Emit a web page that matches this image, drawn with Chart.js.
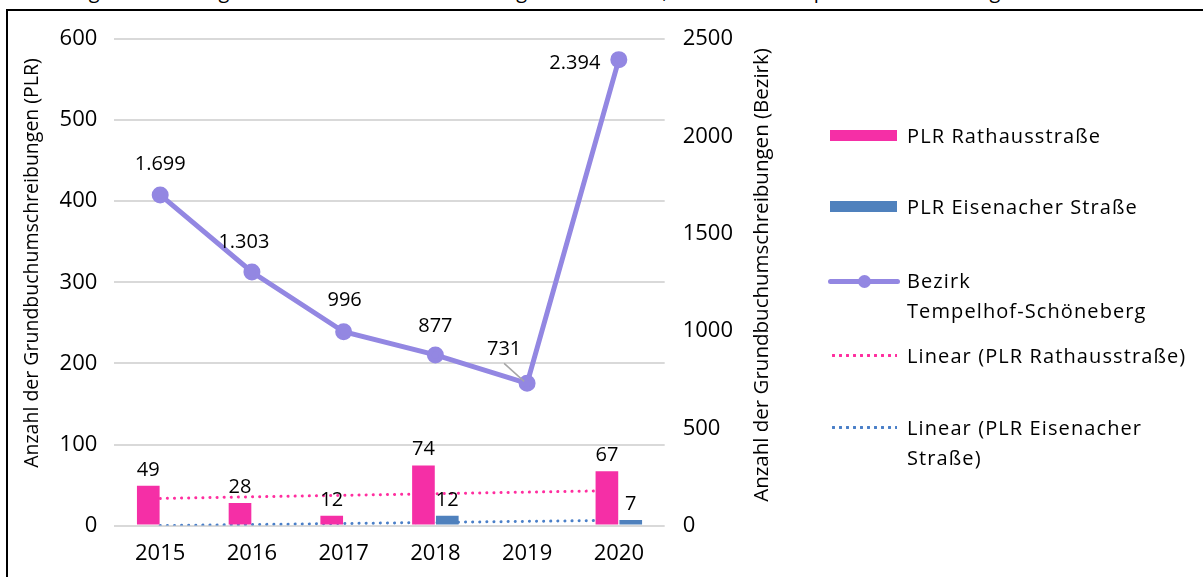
<!DOCTYPE html>
<html>
<head>
<meta charset="utf-8">
<script src="https://cdn.jsdelivr.net/npm/chart.js@4/dist/chart.umd.min.js"></script>
<style>
  body { margin: 0; background: #fff; font-family: "Open Sans", sans-serif; }
  #wrap { position: relative; width: 1203px; height: 577px; overflow: hidden; }
  #title { position: absolute; left: 0; top: -23px; font-size: 20px; white-space: nowrap; color: #000; letter-spacing: 0.6px; }
  #frame { position: absolute; left: 6px; top: 9px; width: 1400px; height: 800px; border-left: 2px solid #000; border-top: 2px solid #000; }
  canvas { position: absolute; left: 0; top: 0; }
  #legend { position: absolute; left: 828px; top: 0; }
  .item { position: absolute; left: 0; white-space: nowrap; font-size: 20px; letter-spacing: 1.1px; line-height: 30px; color: #000; }
  .item .txt { position: absolute; left: 79px; top: 0; }
  .sw { position: absolute; left: 2px; width: 67px; }
</style>
</head>
<body>
<div id="wrap">
  <div id="title">Abbildung: Entwicklung der Grundbuchumschreibungen in den PLR, im Bezirk Tempelhof-Schöneberg</div>
  <div id="frame"></div>
  <canvas id="chart" width="1203" height="577"></canvas>
  <div id="legend"></div>
</div>
<script>
// values
const years = ["2015", "2016", "2017", "2018", "2019", "2020"];
const rathaus = [49, 28, 12, 74, 0, 67];
const eisenacher = [0, 0, 0, 12, 0, 7];
const bezirk = [1699, 1303, 996, 877, 731, 2394];
// trend lines: only the two end values, drawn straight across
const trendRathaus = [33.5, null, null, null, null, 43.2];
const trendEisenacher = [0, null, null, null, null, 6.5];

const leftTitle = "Anzahl der Grundbuchumschreibungen (PLR)";
const rightTitle = "Anzahl der Grundbuchumschreibungen (Bezirk)";

const pink = "#F52FA6";
const blue = "#4F81BD";
const purple = "#9387E2";

const fmt = v => String(v).replace(/\B(?=(\d{3})+(?!\d))/g, ".");

// label shifts for the Bezirk line labels (x, y relative to point)
const lineLabelShift = [[0, -31], [-8, -30], [1, -31], [0, -29], [-23, -34], [-44, 4]];

function verticalText(ctx, text, x, y, size) {
  ctx.save();
  ctx.translate(x, y);
  ctx.rotate(-Math.PI / 2);
  ctx.font = size + 'px "Open Sans"';
  ctx.fillText(text, 0, 0);
  ctx.restore();
}

const valueLabels = {
  id: "valueLabels",
  afterDatasetsDraw(chart) {
    const ctx = chart.ctx;
    ctx.save();
    ctx.font = '20px "Open Sans"';
    ctx.fillStyle = "#000";
    ctx.textAlign = "center";
    ctx.textBaseline = "middle";
    [0, 1].forEach(i => {
      const vals = chart.data.datasets[i].data;
      chart.getDatasetMeta(i).data.forEach((bar, j) => {
        if (!vals[j]) return;
        ctx.fillText(fmt(vals[j]), bar.x, bar.y - 16);
      });
    });
    chart.getDatasetMeta(2).data.forEach((pt, j) => {
      const [dx, dy] = lineLabelShift[j];
      if (j === 4) {
        ctx.strokeStyle = "#A6A6A6";
        ctx.lineWidth = 1.5;
        ctx.beginPath();
        ctx.moveTo(pt.x - 23, pt.y - 20);
        ctx.lineTo(pt.x - 3, pt.y - 2);
        ctx.stroke();
      }
      ctx.fillText(fmt(bezirk[j]), pt.x + dx, pt.y + dy);
    });
    // axis titles, both reading bottom to top
    verticalText(ctx, leftTitle, 32, 263, 19.5);
    verticalText(ctx, rightTitle, 762, 275, 20.5);
    ctx.restore();
  }
};

const tickFont = { family: "Open Sans", size: 22 };

new Chart(document.getElementById("chart").getContext("2d"), {
  type: "bar",
  data: {
    labels: years,
    datasets: [
      { type: "bar", label: "PLR Rathausstraße", data: rathaus, backgroundColor: pink,
        yAxisID: "y", order: 2, categoryPercentage: 0.52, barPercentage: 0.95 },
      { type: "bar", label: "PLR Eisenacher Straße", data: eisenacher, backgroundColor: blue,
        yAxisID: "y", order: 2, categoryPercentage: 0.52, barPercentage: 0.95 },
      { type: "line", label: "Bezirk Tempelhof-Schöneberg", data: bezirk, yAxisID: "y1",
        borderColor: purple, backgroundColor: purple, borderWidth: 5, pointRadius: 6,
        pointHoverRadius: 6, order: 0 },
      { type: "line", label: "Linear (PLR Rathausstraße)", data: trendRathaus, yAxisID: "y",
        spanGaps: true, borderColor: "#FF2E9F", borderWidth: 3, borderDash: [0.1, 7],
        borderCapStyle: "round", pointRadius: 0, order: 3 },
      { type: "line", label: "Linear (PLR Eisenacher Straße)", data: trendEisenacher, yAxisID: "y",
        spanGaps: true, borderColor: "#4A7FC8", borderWidth: 3, borderDash: [0.1, 7],
        borderCapStyle: "round", pointRadius: 0, order: 3 }
    ]
  },
  options: {
    responsive: false,
    animation: false,
    devicePixelRatio: 1,
    layout: { padding: { left: 20, right: 460, top: 39, bottom: 3 } },
    plugins: { legend: { display: false }, tooltip: { enabled: false } },
    scales: {
      x: {
        grid: { display: false },
        border: { display: false },
        ticks: { color: "#000", font: tickFont, padding: 7 }
      },
      y: {
        position: "left",
        min: 0, max: 600,
        ticks: { stepSize: 100, color: "#000", font: tickFont, padding: 17 },
        grid: { color: "#D9D9D9", lineWidth: 2, drawTicks: false },
        border: { display: false },
        // reserves room only; the text itself is drawn by valueLabels
        title: { display: true, text: leftTitle, color: "rgba(0,0,0,0)",
          font: { family: "Open Sans", size: 18 }, padding: { top: 0, bottom: 1 } }
      },
      y1: {
        position: "right",
        min: 0, max: 2500,
        ticks: { stepSize: 500, color: "#000", font: tickFont, padding: 10, callback: v => String(v) },
        grid: { display: false },
        border: { display: false }
      }
    }
  },
  plugins: [valueLabels]
});

// legend, built from the dataset names
const legendItems = [
  { lines: ["PLR Rathausstraße"], y: 121, kind: "bar", color: pink },
  { lines: ["PLR Eisenacher Straße"], y: 192, kind: "bar", color: blue },
  { lines: ["Bezirk", "Tempelhof-Schöneberg"], y: 266, kind: "line", color: purple },
  { lines: ["Linear (PLR Rathausstraße)"], y: 341, kind: "dots", color: "#FF2E9F" },
  { lines: ["Linear (PLR Eisenacher", "Straße)"], y: 413, kind: "dots", color: "#4A7FC8" }
];
const legend = document.getElementById("legend");
legendItems.forEach(it => {
  const d = document.createElement("div");
  d.className = "item";
  d.style.top = it.y + "px";
  const sw = document.createElement("div");
  sw.className = "sw";
  if (it.kind === "bar") {
    sw.style.top = "9px"; sw.style.height = "11px"; sw.style.background = it.color;
  } else if (it.kind === "line") {
    sw.style.top = "13px"; sw.style.height = "5px"; sw.style.left = "0px"; sw.style.width = "72px";
    sw.style.background = it.color; sw.style.borderRadius = "3px";
    const dot = document.createElement("div");
    dot.style.cssText = "position:absolute;left:30px;top:-4px;width:13px;height:13px;border-radius:50%;background:" + it.color;
    sw.appendChild(dot);
  } else {
    sw.style.top = "13px"; sw.style.height = "3px";
    sw.style.background = "radial-gradient(circle, " + it.color + " 1.4px, transparent 1.6px) 0 0 / 7px 3px repeat-x";
  }
  d.appendChild(sw);
  const t = document.createElement("div");
  t.className = "txt";
  t.innerHTML = it.lines.join("<br>");
  d.appendChild(t);
  legend.appendChild(d);
});
</script>
</body>
</html>
